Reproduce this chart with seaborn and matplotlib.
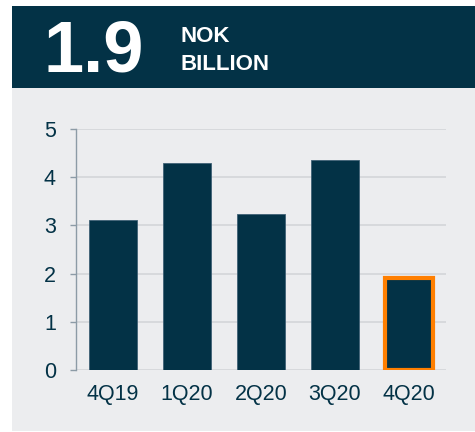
import matplotlib
matplotlib.use("Agg")
import matplotlib.pyplot as plt
from matplotlib.patches import Rectangle
import seaborn as sns
import pandas as pd

quarters = ["4Q19", "1Q20", "2Q20", "3Q20", "4Q20"]
values = [3.11, 4.29, 3.23, 4.35, 1.9]
headline = "1.9"
unit_lines = ["NOK", "BILLION"]
y_ticks = [0, 1, 2, 3, 4, 5]

NAVY = "#033246"
PANEL = "#ECEDEF"
GRID = "#D3D6D9"
SPINE = "#8C9BA6"
ORANGE = "#FF7F00"

sns.set_style("white")
plt.rcParams["font.family"] = ["Liberation Sans", "DejaVu Sans"]

W, H = 475, 432
fig = plt.figure(figsize=(W / 100, H / 100), dpi=100, facecolor="white")

def fx(px):
    return px / W

def fy(py):
    return 1 - py / H

# header band and light panel behind the chart
fig.patches.append(Rectangle((fx(12), fy(88)), fx(475) - fx(12), fy(6) - fy(88),
                             transform=fig.transFigure, facecolor=NAVY, edgecolor="none", zorder=-10))
fig.patches.append(Rectangle((fx(12), fy(431)), fx(475) - fx(12), fy(88) - fy(431),
                             transform=fig.transFigure, facecolor=PANEL, edgecolor="none", zorder=-10))

fig.text(fx(43), fy(71), headline, color="white", fontsize=52, fontweight="bold",
         ha="left", va="baseline")
fig.text(fx(180), fy(42.5), unit_lines[0], color="white", fontsize=16, fontweight="bold",
         ha="left", va="baseline")
fig.text(fx(180), fy(69.5), unit_lines[1], color="white", fontsize=16, fontweight="bold",
         ha="left", va="baseline")

ax = fig.add_axes([fx(76), fy(370), fx(446) - fx(76), fy(129) - fy(370)])
ax.set_zorder(5)
ax.set_facecolor("none")

df = pd.DataFrame({"quarter": quarters, "value": values})
sns.barplot(data=df, x="quarter", y="value", color=NAVY, saturation=1, width=0.66,
            edgecolor="#3F6175", linewidth=0.6, ax=ax, zorder=3)

last = ax.patches[len(quarters) - 1]
last.set_edgecolor(ORANGE)
last.set_linewidth(3.0)
last.set_joinstyle("miter")

ax.set_xlim(-0.5, len(quarters) - 0.5)
ax.set_ylim(0, 5)
ax.set_yticks(y_ticks)
ax.yaxis.grid(True, color=GRID, linewidth=1.2, zorder=0)
ax.set_axisbelow(True)

for side in ["top", "right", "bottom"]:
    ax.spines[side].set_visible(False)
ax.spines["left"].set_color(SPINE)
ax.spines["left"].set_linewidth(1.0)

ax.tick_params(axis="y", length=4.5, width=1.0, color=SPINE, pad=10,
               labelsize=15.5, labelcolor=NAVY, left=True)
ax.tick_params(axis="x", length=0, pad=10, labelsize=15.5, labelcolor=NAVY)
ax.set_xlabel("")
ax.set_ylabel("")

fig.savefig("out.png", dpi=100, facecolor="white")
